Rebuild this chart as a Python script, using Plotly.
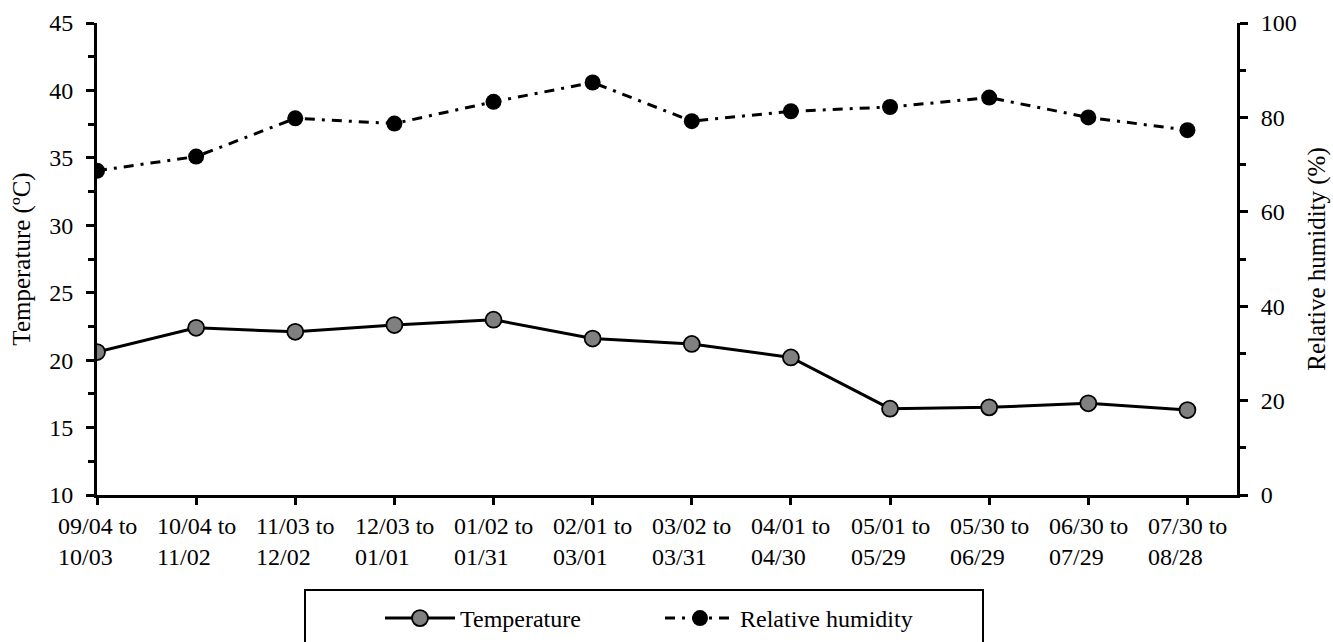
import plotly.graph_objects as go

periods = ["09/04 to<br>10/03", "10/04 to<br>11/02", "11/03 to<br>12/02", "12/03 to<br>01/01",
           "01/02 to<br>01/31", "02/01 to<br>03/01", "03/02 to<br>03/31", "04/01 to<br>04/30",
           "05/01 to<br>05/29", "05/30 to<br>06/29", "06/30 to<br>07/29", "07/30 to<br>08/28"]
temperature = [20.6, 22.4, 22.1, 22.6, 23.0, 21.6, 21.2, 20.2, 16.4, 16.5, 16.8, 16.3]
humidity = [68.7, 71.7, 79.8, 78.7, 83.3, 87.4, 79.2, 81.3, 82.2, 84.2, 80.0, 77.3]

FONT = "Liberation Serif, Times New Roman, serif"
FS = 24
W, H = 1333, 642
xi = list(range(len(periods)))

fig = go.Figure()
fig.add_trace(go.Scatter(
    x=xi, y=temperature, name="Temperature", mode="lines+markers",
    line=dict(color="black", width=3),
    marker=dict(size=16, color="#808080", line=dict(color="black", width=1.8)),
    yaxis="y"))
fig.add_trace(go.Scatter(
    x=xi, y=humidity, name="Relative humidity", mode="lines+markers",
    line=dict(color="black", width=3, dash="10px,7px,3px,7px"),
    marker=dict(size=16, color="black", line=dict(color="black", width=0)),
    yaxis="y2"))

for i, lab in enumerate(periods):
    fig.add_annotation(x=i, xref="x", y=0, yref="paper", yanchor="top", xanchor="center",
                       yshift=-16, text=lab, showarrow=False, align="left",
                       font=dict(family=FONT, size=FS, color="black"))

# legend frame
fig.add_shape(type="rect", xref="paper", yref="paper",
              x0=(305 - 97) / 1140, x1=(983 - 97) / 1140,
              y0=(495 - 590) / 472, y1=(495 - 700) / 472,
              line=dict(color="black", width=2), fillcolor="rgba(0,0,0,0)")

fig.update_layout(
    width=W, height=H,
    margin=dict(l=97, r=96, t=23, b=147),
    paper_bgcolor="white", plot_bgcolor="white",
    font=dict(family=FONT, size=FS, color="black"),
    showlegend=True,
    legend=dict(orientation="h", xref="container", yref="container",
                x=380 / W, xanchor="left", y=1 - 596 / H, yanchor="top",
                font=dict(family=FONT, size=FS, color="black"),
                itemwidth=70, entrywidth=195, entrywidthmode="pixels",
                bgcolor="rgba(0,0,0,0)", borderwidth=0),
    xaxis=dict(range=[0, 11.5], tickvals=xi, showticklabels=False,
               showline=True, linecolor="black", linewidth=3,
               ticks="outside", ticklen=7, tickwidth=3, tickcolor="black",
               showgrid=False, zeroline=False, automargin=False),
    yaxis=dict(range=[10, 45], dtick=5, tick0=10, showline=True, linecolor="black",
               linewidth=3, ticks="outside", ticklen=8, tickwidth=2.5, tickcolor="black",
               minor=dict(dtick=2.5, ticks="outside", ticklen=6, tickwidth=2.5, tickcolor="black"),
               showgrid=False, zeroline=False, ticklabelstandoff=8, automargin=False,
               title=dict(text="Temperature (ºC)", font=dict(family=FONT, size=25), standoff=12),
               tickfont=dict(family=FONT, size=FS)),
    yaxis2=dict(range=[0, 100], dtick=20, tick0=0, overlaying="y", side="right",
                showline=True, linecolor="black", linewidth=3,
                ticks="outside", ticklen=8, tickwidth=2.5, tickcolor="black",
                minor=dict(dtick=10, ticks="outside", ticklen=6, tickwidth=2.5, tickcolor="black"),
                showgrid=False, zeroline=False, ticklabelstandoff=8, automargin=False,
                title=dict(text="Relative humidity (%)", font=dict(family=FONT, size=25), standoff=12),
                tickfont=dict(family=FONT, size=FS)),
)

fig.write_html("out.html")
